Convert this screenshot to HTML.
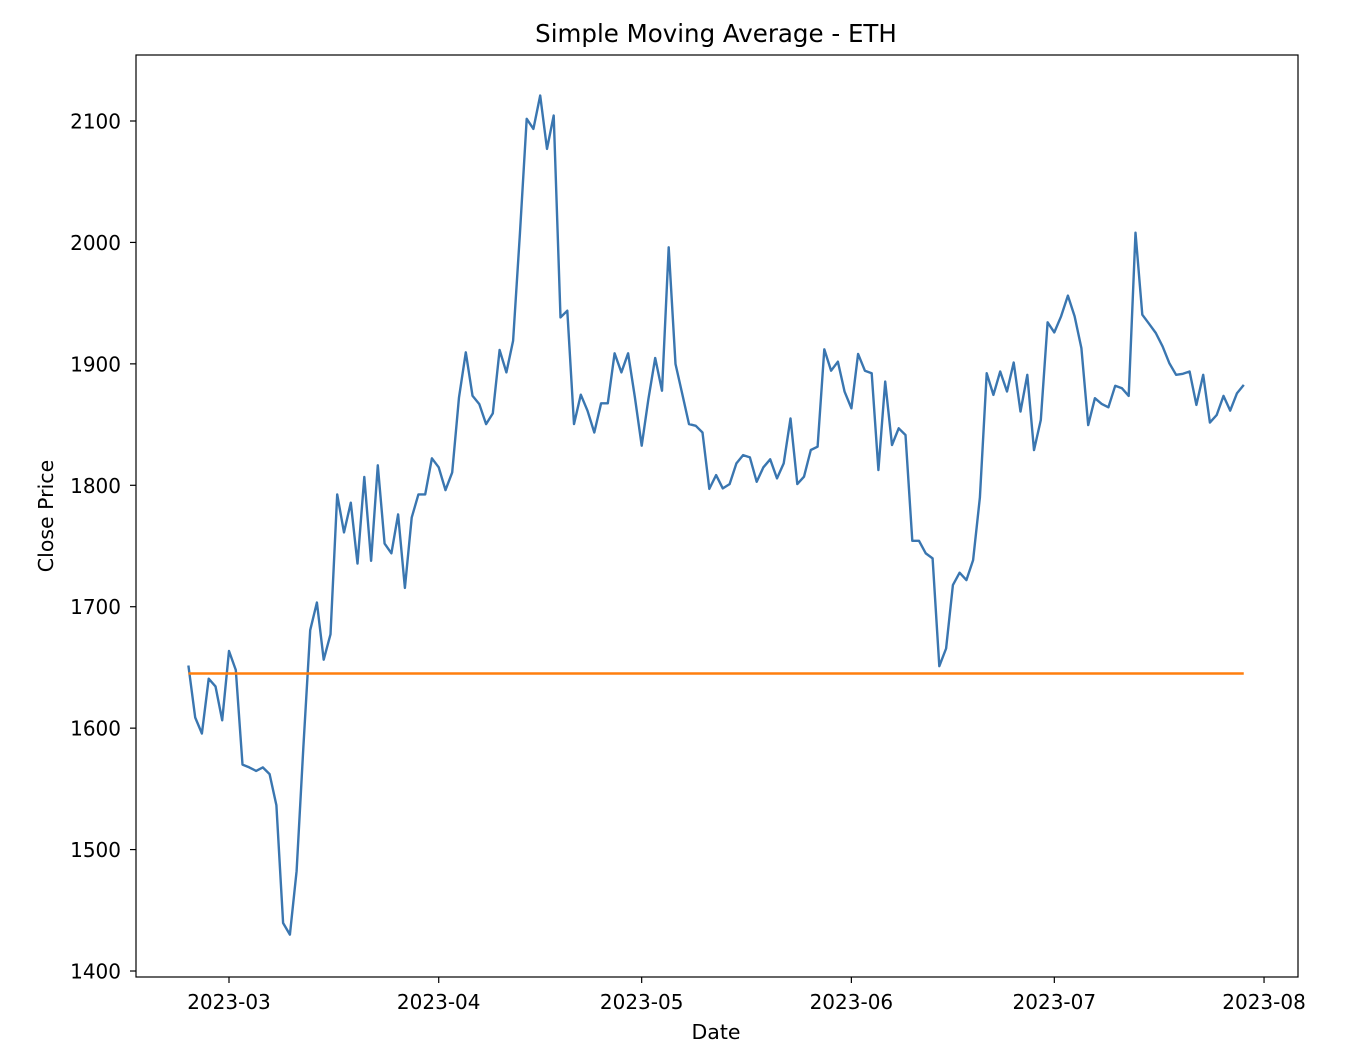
<!DOCTYPE html>
<html><head><meta charset="utf-8"><style>
html,body{margin:0;padding:0;background:#fff;}
svg{display:block;font-family:"DejaVu Sans","Liberation Sans",sans-serif;}
</style></head><body>
<svg id="chart" width="1360" height="1064" viewBox="0 0 1360 1064">
<text x="716" y="42" text-anchor="middle" font-size="24.5" fill="#000">Simple Moving Average - ETH</text>
<text x="716" y="1039" text-anchor="middle" font-size="20.5" fill="#000">Date</text>
<text transform="translate(53,516) rotate(-90)" text-anchor="middle" font-size="20.5" fill="#000">Close Price</text>
<g id="plot"></g>
</svg>
<script>
const startDate = "2023-02-23";
const closeValues = [1651.6,1608.8,1595.6,1640.7,1634.4,1606.5,1663.5,1647.9,1570,1567.7,1564.8,1567.7,1562.2,1536.5,1439.5,1430,1482.3,1585,1680.7,1703.5,1656.4,1677.3,1792.5,1761.2,1785.7,1735.5,1806.8,1737.8,1816.5,1752,1744,1776,1715.5,1773.4,1792.5,1792.5,1822.2,1814.8,1796,
1810.6,1872.4,1909.5,1873.8,1866.9,1850.4,1859.2,1911.4,1893,1919.1,2007,2101.8,2093.5,2121,2077,2104.5,1938.3,1943.8,1850.4,1874.6,1861.4,1843.5,1867.5,1867.5,1908.7,1893,1908.7,1872.4,1832.6,1871,1904.8,1877.9,1996,1899.9,1875.1,1850.4,1849,1843.5,1797,
1808.4,1797.4,1801,1818,1824.9,1823,1802.9,1814.8,1821.4,1805.7,1818,1855.1,1801,1807.1,1829.1,1831.8,1912,1894.4,1901.8,1877.1,1863.4,1908.2,1894.4,1892.2,1812.6,1885.4,1833.2,1846.9,1841.4,1754.3,1754.3,1743.9,1739.8,1651,1665.6,1717.8,1728,1721.9,1738.4,1790,
1892.3,1874.4,1893.7,1877.2,1901.1,1860.7,1891,1829,1853.8,1934.2,1925.9,1939.2,1956.2,1939.2,1913,1849.6,1871.7,1867,1864.2,1881.9,1879.9,1873.6,2008,1940.5,1933.1,1925.4,1914.4,1900.6,1891,1891.8,1893.7,1866.2,1891,1851.6,1857.9,1873.6,1861.5,1875.8,1882.7];
const smaValues = [1645, 1645];
const xTickLabels = ["2023-03","2023-04","2023-05","2023-06","2023-07","2023-08"];
const yTickValues = [1400,1500,1600,1700,1800,1900,2000,2100];

const L=136,R=1298,T=55,B=977;
const DAY=86400000, ref=Date.UTC(2023,2,1);
function xDate(ms){return 229+(ms-ref)/DAY*6.765;}
function yVal(v){return 121+(2100-v)*1.2143;}
const NS="http://www.w3.org/2000/svg";
const g=document.getElementById('plot');
function mk(t,a){const e=document.createElementNS(NS,t);for(const k in a)e.setAttribute(k,a[k]);g.appendChild(e);return e;}
const s0=Date.parse(startDate+"T00:00:00Z");
const pts=closeValues.map((v,i)=>xDate(s0+i*DAY).toFixed(1)+","+yVal(v).toFixed(1)).join(" ");
const line=mk('polyline',{points:pts,fill:'none',stroke:'#3a76b0','stroke-width':2.4,'stroke-linejoin':'round'});


const x0=xDate(s0), x1=xDate(s0+(closeValues.length-1)*DAY);
const sma=mk('line',{x1:x0,x2:x1,y1:yVal(smaValues[0]),y2:yVal(smaValues[1]),stroke:'#ff7f0e','stroke-width':2.4});


const fr=mk('rect',{x:L,y:T,width:R-L,height:B-T,fill:'none',stroke:'#000','stroke-width':1.2});


xTickLabels.forEach(lab=>{
  const x=xDate(Date.parse(lab+"-01T00:00:00Z"));
  const tk=mk('line',{x1:x,x2:x,y1:B,y2:B+6,stroke:'#000','stroke-width':1.2});
  
  
  const t=mk('text',{x:x,y:B+32,'text-anchor':'middle','font-size':20,fill:'#000'});
  t.textContent=lab;
  
  
});
yTickValues.forEach(v=>{
  const y=yVal(v);
  const tk=mk('line',{x1:L-6,x2:L,y1:y,y2:y,stroke:'#000','stroke-width':1.2});
  
  
  const t=mk('text',{x:L-15,y:y+7.5,'text-anchor':'end','font-size':20,fill:'#000'});
  t.textContent=v;
  
  
});
</script>
</body></html>
